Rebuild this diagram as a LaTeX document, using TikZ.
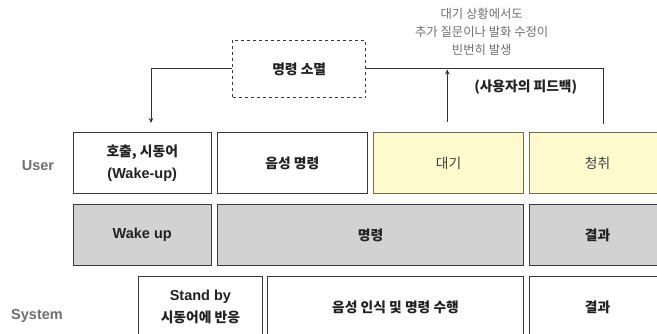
\documentclass[tikz,border=0pt]{standalone}
\usepackage{fontspec}
\setmainfont{Liberation Sans}
\newfontfamily\krfont[Scale=0.95]{Noto Sans CJK KR}
\newcommand\hk[1]{{\krfont #1}}
\usetikzlibrary{arrows.meta}
\definecolor{linec}{HTML}{333333}
\definecolor{boxc}{HTML}{3A3A3A}
\definecolor{yel}{HTML}{FFF9CE}
\definecolor{yelb}{HTML}{6E6E50}
\definecolor{grayf}{HTML}{D2D2D2}
\definecolor{labc}{HTML}{707070}
\definecolor{txtc}{HTML}{222222}
\tikzset{
  cell/.style={draw=boxc, line width=1.1pt, anchor=north west, inner sep=0pt,
     minimum height=61pt, align=center, text=txtc,
     font=\fontsize{14.5}{22}\selectfont\bfseries},
  whitecell/.style={cell, fill=white},
  yelcell/.style={cell, fill=yel, draw=yelb, text=black!75,
     font=\fontsize{14.5}{22}\selectfont},
  graycell/.style={cell, fill=grayf},
  rowlabel/.style={text=labc, font=\fontsize{14.5}{18}\selectfont\bfseries},
  conn/.style={draw=linec, line width=1pt},
  tip/.style={-{Stealth[length=5pt,width=4.5pt]}}
}
\begin{document}
\begin{tikzpicture}[x=1pt,y=-1pt]
\useasboundingbox (0,0) rectangle (657,333);
\clip (0,0) rectangle (657,333);
\fill[white] (0,0) rectangle (657,333);

% row labels
\node[rowlabel] (lu) at (38,166) {User};
\node[rowlabel] (ls) at (37,316) {System};

% user row
\node[whitecell, minimum width=138pt] (u1) at (72.7,132.3) {\hk{호출, 시동어}\\(Wake-up)};
\node[whitecell, minimum width=150pt] (u2) at (216.7,132.3) {\hk{음성 명령}};
\node[yelcell, minimum width=150.6pt] (u3) at (372.7,132.3) {\hk{대기}};
\node[yelcell, minimum width=136pt] (u4) at (529,132.3) {\hk{청취}};

% gray row
\node[graycell, minimum width=138pt] (g1) at (72.7,204) {Wake up};
\node[graycell, minimum width=306.6pt] (g2) at (216.7,204) {\hk{명령}};
\node[graycell, minimum width=136pt] (g3) at (529,204) {\hk{결과}};

% system row
\node[whitecell, minimum width=123.7pt] (s1) at (138,276) {Stand by\\\hk{시동어에 반응}};
\node[whitecell, minimum width=256.6pt] (s2) at (266.7,276) {\hk{음성 인식 및 명령 수행}};
\node[whitecell, minimum width=136pt] (s3) at (529,276) {\hk{결과}};

% dashed box
\node[draw=boxc, dashed, line width=1pt, minimum width=133pt, minimum height=57.7pt,
      inner sep=0pt, text=txtc, font=\fontsize{14.5}{18}\selectfont\bfseries]
      (m) at (299.2,68.9) {\hk{명령 소멸}};

% annotations
\node[text=labc, align=center, font=\fontsize{13}{18}\selectfont] (note) at (481.7,32)
  {\hk{대기 상황에서도}\\\hk{추가 질문이나 발화 수정이}\\\hk{빈번히 발생}};
\node[text=txtc, font=\fontsize{14.5}{18}\selectfont\bfseries] (fb) at (525.7,87)
  {\hk{(사용자의 피드백)}};

% connectors
\coordinate (c1) at (151,123);
\coordinate (c2) at (603.3,124);
\coordinate (c3) at (447.3,122);
\coordinate (c4) at (447.3,69.5);
\draw[conn, tip] (m.west) -| (c1);
\draw[conn] (m.east) -| (c2);
\draw[conn, tip] (c3) -- (c4);
\end{tikzpicture}
\end{document}
